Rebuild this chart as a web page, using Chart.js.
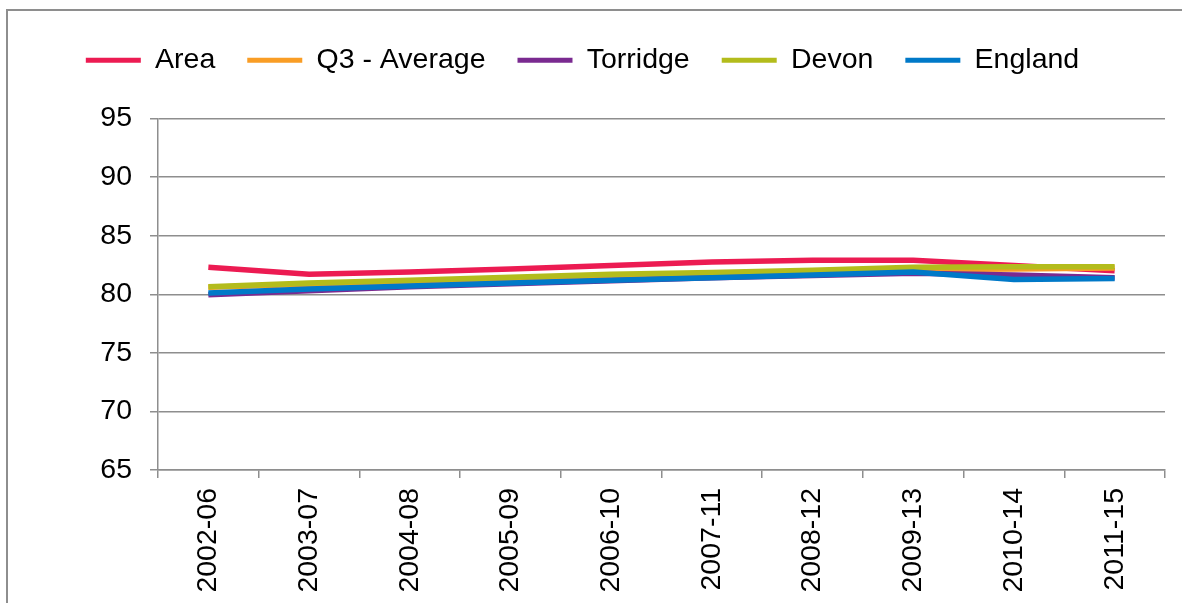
<!DOCTYPE html>
<html>
<head>
<meta charset="utf-8">
<script src="https://cdn.jsdelivr.net/npm/chart.js@4/dist/chart.umd.min.js"></script>
<style>
  html, body { margin: 0; padding: 0; background: #fff; overflow: hidden; }
  #frame { position: absolute; left: 6px; top: 9px; width: 1300px; height: 700px; border: 2px solid #8e8e8e; box-sizing: border-box; }
  #wrap { position: absolute; left: 0; top: 0; width: 1182px; height: 603px; }
</style>
</head>
<body>
<div id="frame"></div>
<div id="wrap"><canvas id="myChart" width="1182" height="603"></canvas></div>
<script>
// periods along the x axis
const periods = ['2002-06', '2003-07', '2004-08', '2005-09', '2006-10', '2007-11', '2008-12', '2009-13', '2010-14', '2011-15'];

// series values
const area     = [82.3, 81.7, 81.9, 82.15, 82.45, 82.75, 82.9, 82.9, 82.45, 82.0];
const q3Avg    = [80.6, 80.85, 81.1, 81.35, 81.6, 81.8, 81.95, 82.1, 82.15, 82.25];
const torridge = [79.95, 80.3, 80.65, 80.9, 81.15, 81.4, 81.6, 81.8, 81.65, 81.4];
const devon    = [80.65, 80.95, 81.2, 81.45, 81.7, 81.85, 82.05, 82.3, 82.35, 82.35];
const england  = [80.1, 80.45, 80.7, 80.95, 81.2, 81.4, 81.65, 81.9, 81.25, 81.35];

// y axis range
const yMin = 65;
const yMax = 95;
const yStep = 5;

const FONT = {family: '"Liberation Sans", Arial, sans-serif', size: 28.5};
const GRID = '#8e8e8e';

function series(label, data, color, order) {
    return {
        label: label,
        data: data,
        borderColor: color,
        backgroundColor: color,
        borderWidth: 5.5,
        pointRadius: 0,
        tension: 0,
        fill: false,
        order: order
    };
}

// give the legend some extra room below it
const legendSpace = {
    id: 'legendSpace',
    beforeInit(chart) {
        const fit = chart.legend.fit;
        chart.legend.fit = function () {
            fit.bind(chart.legend)();
            this.height += 34;
        };
    }
};

let ctx = document.getElementById('myChart').getContext('2d');

let myChart = new Chart(ctx, {
    type: 'line',
    data: {
        labels: periods,
        datasets: [
            series('Area', area, '#ec1b52', 5),
            series('Q3 - Average', q3Avg, '#f99d25', 4),
            series('Torridge', torridge, '#7a2a90', 3),
            series('Devon', devon, '#b3bc1c', 2),
            series('England', england, '#0079c8', 1)
        ]
    },
    options: {
        responsive: false,
        animation: false,
        layout: {padding: {left: 0, right: 17, top: 14, bottom: 0}},
        plugins: {
            tooltip: {enabled: false},
            legend: {
                position: 'top',
                labels: {
                    font: FONT,
                    color: '#000',
                    boxWidth: 55,
                    boxHeight: 5,
                    padding: 32,
                    generateLabels(chart) {
                        let items = Chart.defaults.plugins.legend.labels.generateLabels(chart);
                        items.forEach(it => { it.lineWidth = 0; });
                        return items.sort((a, b) => a.datasetIndex - b.datasetIndex);
                    }
                }
            }
        },
        scales: {
            x: {
                offset: true,
                grid: {
                    drawOnChartArea: false,
                    drawTicks: true,
                    tickLength: 8,
                    color: GRID,
                    lineWidth: 1.5,
                    offset: true
                },
                border: {color: GRID, width: 1.5},
                ticks: {
                    font: FONT,
                    color: '#000',
                    minRotation: 90,
                    maxRotation: 90,
                    padding: 10,
                    autoSkip: false
                },
                afterFit(scale) {
                    scale.height = 133;
                }
            },
            y: {
                min: yMin,
                max: yMax,
                grid: {
                    color: GRID,
                    lineWidth: 1.5,
                    tickLength: 8
                },
                border: {color: GRID, width: 1.5},
                ticks: {
                    stepSize: yStep,
                    font: FONT,
                    color: '#000',
                    padding: 18
                },
                afterFit(scale) {
                    scale.width = 158;
                }
            }
        }
    },
    plugins: [legendSpace]
});
</script>
</body>
</html>
